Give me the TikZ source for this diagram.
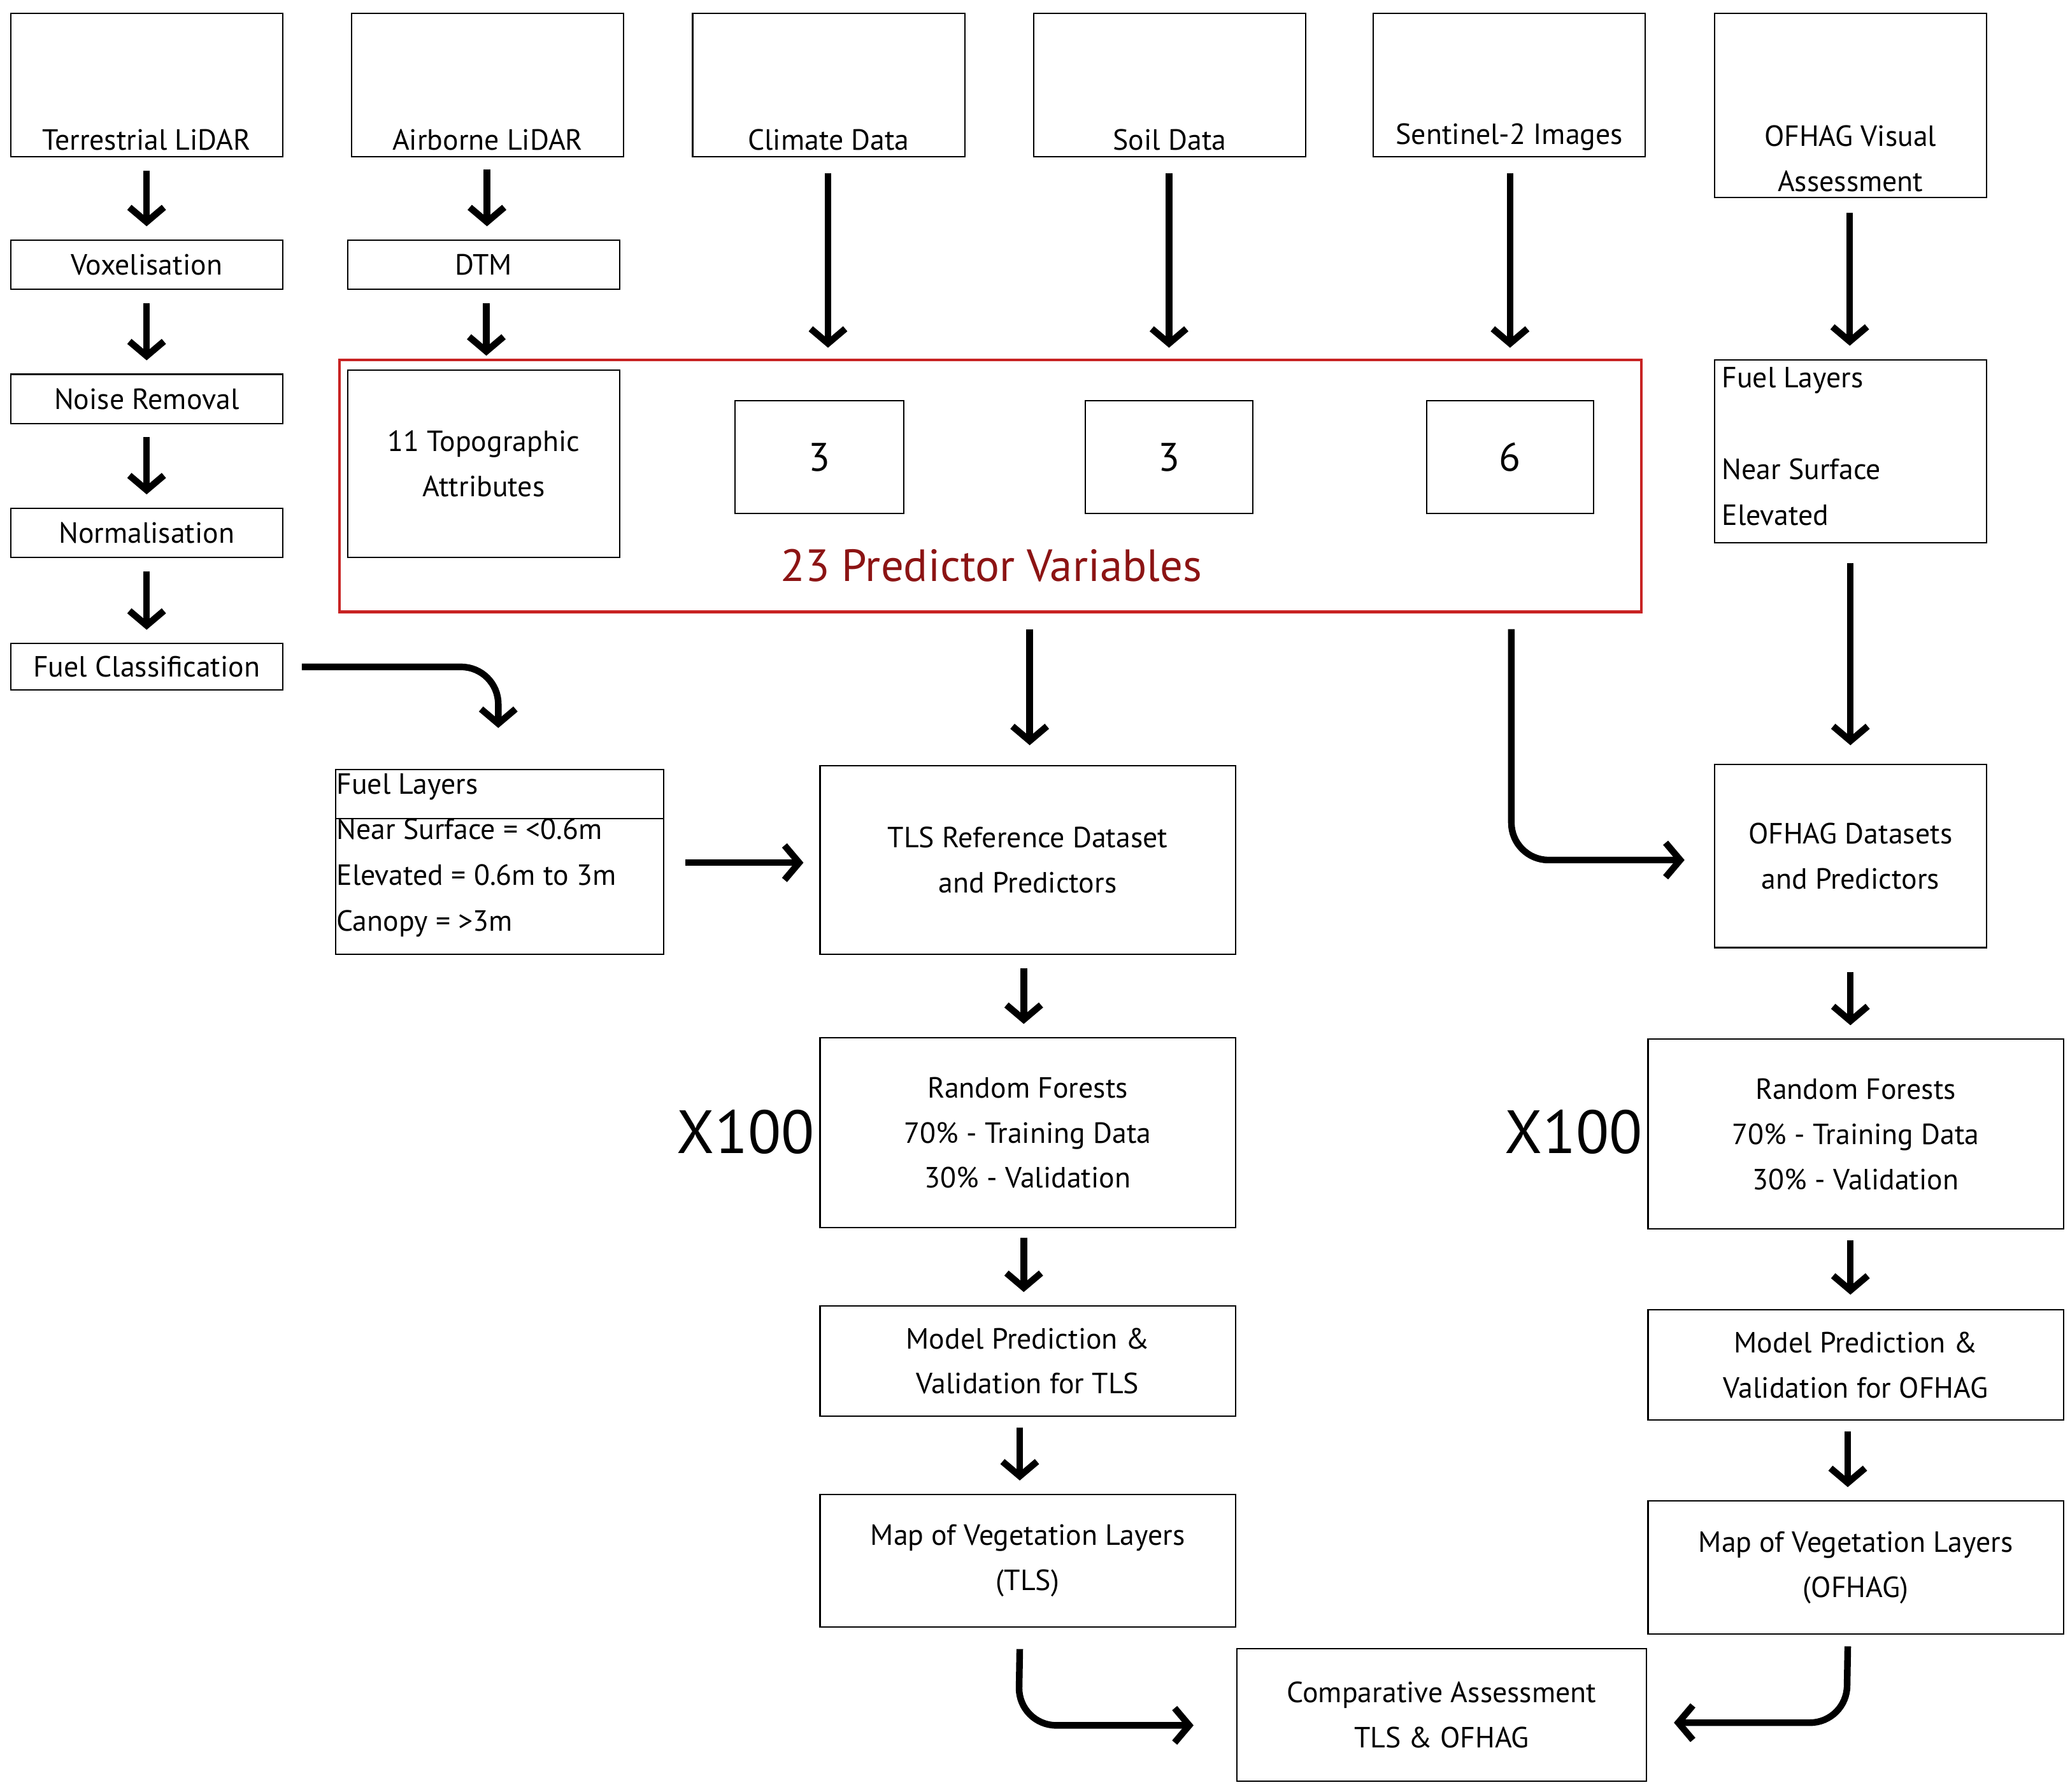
\documentclass[tikz,border=0pt]{standalone}
\usepackage{fontspec}
\setmainfont{PT Sans}
\usetikzlibrary{arrows.meta}
\definecolor{BoxRed}{RGB}{200,35,35}
\definecolor{TxtRed}{RGB}{140,20,20}
\tikzset{
  box/.style={draw=black, line width=1pt, inner sep=2pt, align=center, font=\fontsize{22}{34}\selectfont},
  arr/.style={line width=5pt, -{Straight Barb[length=11pt, width=26pt, line width=5pt]}},
  bot/.style={anchor=south, align=center, inner sep=5pt, font=\fontsize{22}{34}\selectfont},
}
\newcommand\bx[6]{\node[box, minimum width={(#4-#2)*1pt}, minimum height={(#5-#3)*1pt}] (#1) at ({(#2+#4)/2},{(#3+#5)/2}) {#6};}
\begin{document}
\begin{tikzpicture}[x=1pt, y=-1pt]
\useasboundingbox (0,0) rectangle (1560,1350);
% top row
\bx{tl}{8}{10}{213}{118}{}
\node[bot] at (tl.south) {Terrestrial LiDAR};
\bx{al}{265}{10}{470}{118}{}
\node[bot] at (al.south) {Airborne LiDAR};
\bx{cd}{522}{10}{727}{118}{}
\node[bot] at (cd.south) {Climate Data};
\bx{sd}{779}{10}{984}{118}{}
\node[bot] at (sd.south) {Soil Data};
\bx{s2}{1035}{10}{1240}{118}{}
\node[bot] at (s2.south) {Sentinel-2 Images};
\bx{of}{1292}{10}{1497}{149}{}
\node[bot] at (of.south) {OFHAG Visual\\Assessment};
% left column
\bx{vox}{8}{181}{213}{218}{Voxelisation}
\bx{noise}{8}{282}{213}{319}{Noise Removal}
\bx{norm}{8}{383}{213}{420}{Normalisation}
\bx{fcl}{8}{485}{213}{520}{Fuel Classification}
\bx{dtm}{262}{181}{467}{218}{DTM}
% predictor box
\node[draw=BoxRed, line width=2pt, minimum width=981pt, minimum height=190pt] (pred) at (746.5,366) {};
\bx{topo}{262}{279}{467}{420}{11 Topographic\\Attributes}
\bx{pc}{554}{302}{681}{387}{\fontsize{30}{34}\selectfont 3}
\bx{ps}{818}{302}{944}{387}{\fontsize{30}{34}\selectfont 3}
\bx{pe}{1075}{302}{1201}{387}{\fontsize{30}{34}\selectfont 6}
\node[text=TxtRed, font=\fontsize{34}{40}\selectfont] (pv) at (747,426) {23 Predictor Variables};
% right fuel layers
\bx{fr}{1292}{271}{1497}{409}{}
\node[anchor=north west, align=left, inner sep=6pt, font=\fontsize{22}{34.5}\selectfont] (frt) at (fr.north west) {Fuel Layers\\[0pt]\mbox{}\\Near Surface\\Elevated};
% fuel table
\bx{ft}{253}{580}{500}{719}{}
\node[anchor=north west, align=left, inner sep=1pt, font=\fontsize{22}{34.5}\selectfont] (ftt) at ([yshift=-2pt]ft.north west) {Fuel Layers\\Near Surface = <0.6m\\Elevated = 0.6m to 3m\\Canopy = >3m};
\draw[line width=1pt] (ft.west |- 0,617) -- (ft.east |- 0,617);
% main boxes
\bx{tref}{618}{577}{931}{719}{TLS Reference Dataset\\and Predictors}
\bx{oref}{1292}{576}{1497}{714}{OFHAG Datasets\\and Predictors}
\bx{rfl}{618}{782}{931}{925}{Random Forests\\70\% - Training Data\\30\% - Validation}
\bx{rfr}{1242}{783}{1555}{926}{Random Forests\\70\% - Training Data\\30\% - Validation}
\node[font=\fontsize{46}{50}\selectfont] (xl) at (562,853) {X100};
\node[font=\fontsize{46}{50}\selectfont] (xr) at (1186,853) {X100};
\bx{mpl}{618}{984}{931}{1067}{Model Prediction \&\\Validation for TLS}
\bx{mpr}{1242}{987}{1555}{1070}{Model Prediction \&\\Validation for OFHAG}
\bx{mapl}{618}{1126}{931}{1226}{Map of Vegetation Layers\\(TLS)}
\bx{mapr}{1242}{1131}{1555}{1231}{Map of Vegetation Layers\\(OFHAG)}
\bx{comp}{932}{1242}{1241}{1342}{Comparative Assessment\\TLS \& OFHAG}
% arrows
\draw[arr] ([yshift=-10pt]tl.south) -- ([yshift=10pt]vox.north);
\draw[arr] ([yshift=-10pt]vox.south) -- ([yshift=10pt]noise.north);
\draw[arr] ([yshift=-10pt]noise.south) -- ([yshift=10pt]norm.north);
\draw[arr] ([yshift=-10pt]norm.south) -- ([yshift=10pt]fcl.north);
\draw[arr] ([xshift=-0.5pt,yshift=-9pt]al.south) -- ([xshift=-0.5pt,yshift=10pt]al.south |- dtm.north);
\draw[arr] ([xshift=2pt,yshift=-10pt]dtm.south) -- ([xshift=2pt,yshift=2pt]pred.north -| dtm);
\draw[arr] ([xshift=-0.5pt,yshift=-12pt]cd.south) -- ([xshift=-0.5pt,yshift=8pt]pred.north -| cd);
\draw[arr] ([xshift=-0.5pt,yshift=-12pt]sd.south) -- ([xshift=-0.5pt,yshift=8pt]pred.north -| sd);
\draw[arr] ([xshift=0.5pt,yshift=-12pt]s2.south) -- ([xshift=0.5pt,yshift=8pt]pred.north -| s2);
\draw[arr] ([xshift=-0.5pt,yshift=-11pt]of.south) -- ([xshift=-0.5pt,yshift=10pt]fr.north);
\draw[arr] ([yshift=-15pt]fr.south) -- ([yshift=14pt]oref.north);
\draw[arr] ([xshift=14pt]fcl.east) -- ++(120,0) arc[start angle=-90, end angle=0, radius=28] -- ++(0,18);
\draw[arr] ([xshift=1.5pt,yshift=-12pt]pred.south -| tref) -- ([xshift=1.5pt,yshift=15pt]tref.north);
\draw[arr] ([yshift=-12pt]pred.south -| 1139,0) -- (1139,620) arc[start angle=-180, end angle=-270, radius=28] -- ([xshift=-22pt]oref.west |- 0,648);
\draw[arr] ([xshift=16pt]ft.east |- 0,650) -- ([xshift=-12pt]tref.west |- 0,650);
\draw[arr] ([xshift=-3pt,yshift=-10pt]tref.south) -- ([xshift=-3pt,yshift=10pt]rfl.north);
\draw[arr] ([xshift=-3pt,yshift=-7pt]rfl.south) -- ([xshift=-3pt,yshift=10pt]mpl.north);
\draw[arr] ([xshift=-6pt,yshift=-8pt]mpl.south) -- ([xshift=-6pt,yshift=10pt]mapl.north);
\draw[arr] ([xshift=-6pt,yshift=-16pt]mapl.south) -- (768,1272) arc[start angle=-180, end angle=-270, radius=28] -- ([xshift=-32pt]comp.west |- 0,1300);
\draw[arr] ([yshift=-18pt]oref.south) -- ([xshift=-4pt,yshift=10pt]rfr.north);
\draw[arr] ([xshift=-4pt,yshift=-8pt]rfr.south) -- ([xshift=-4pt,yshift=11pt]mpr.north);
\draw[arr] ([xshift=-6pt,yshift=-8pt]mpr.south) -- ([xshift=-6pt,yshift=10pt]mapr.north);
\draw[arr] ([xshift=-6pt,yshift=-9pt]mapr.south) -- (1392,1270) arc[start angle=0, end angle=90, radius=28] -- ([xshift=20pt]comp.east |- 0,1298);
\end{tikzpicture}
\end{document}
